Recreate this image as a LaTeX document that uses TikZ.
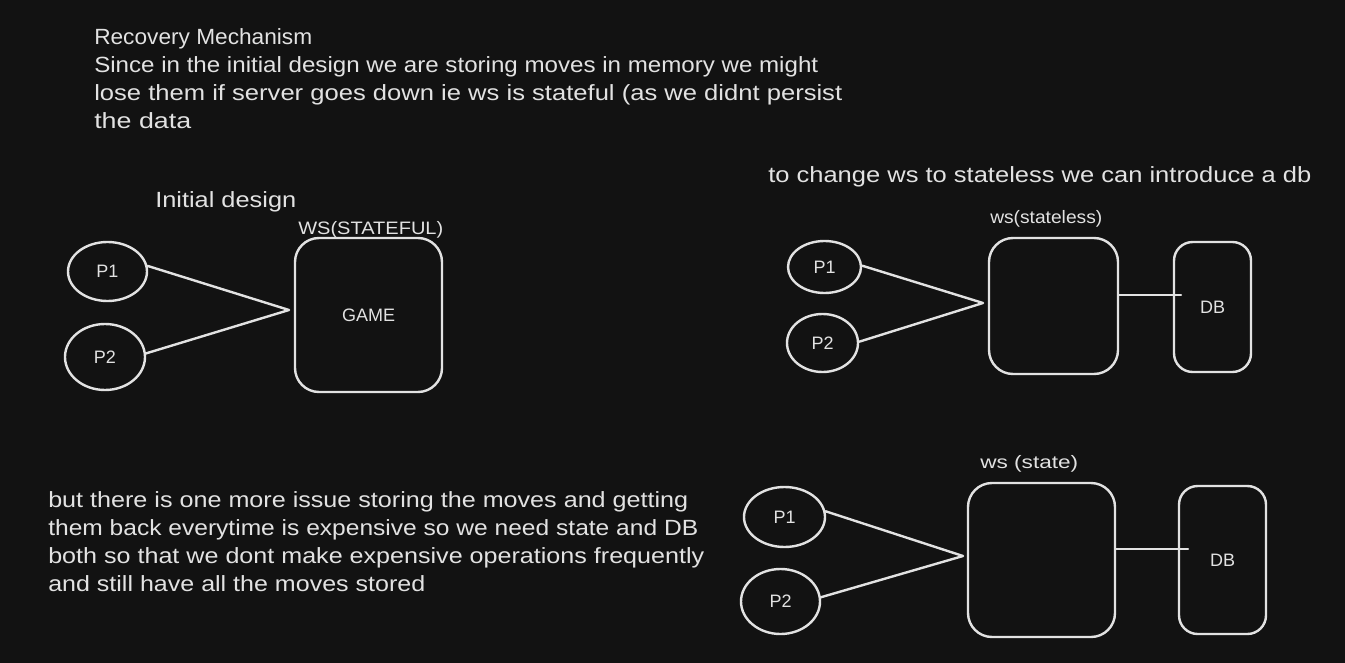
\documentclass[tikz,border=0pt]{standalone}
\usepackage{fontspec}
\setmainfont{Liberation Sans}
\usepackage{graphicx}
\usetikzlibrary{shapes.geometric}
\definecolor{bg}{HTML}{121212}
\definecolor{ink}{HTML}{E2E2E2}
\newcommand\fitw[2]{\sbox0{#2}\scalebox{\fpeval{(#1)/(\the\wd0)}}[1]{\usebox0}}
\newcommand\paralines[1]{\vtop{\baselineskip=21pt\lineskiplimit=-20pt #1}}
\begin{document}
\begin{tikzpicture}[x=0.75pt,y=-0.75pt,
  txt/.style={text=ink, inner sep=0pt, anchor=base west, font=\fontsize{16.5}{21}\selectfont},
  lbl/.style={text=ink, inner sep=0pt, anchor=base west, font=\fontsize{13.5}{16}\selectfont},
  player/.style={ellipse, draw=ink, line width=1.8pt, inner sep=0pt, text=ink, font=\fontsize{13.5}{16}\selectfont},
  server/.style={rectangle, draw=ink, line width=1.8pt, rounded corners=18pt, inner sep=0pt, text=ink, font=\fontsize{13.5}{16}\selectfont},
  dbbox/.style={server, rounded corners=14pt},
  link/.style={draw=ink, line width=1.8pt, line cap=round, line join=round}]
\fill[bg] (0,0) rectangle (1345,663);
\useasboundingbox (0,0) rectangle (1345,663);

% ---------- intro text ----------
\node[txt] (intro) at (94,45) {\paralines{%
  \hbox{\fitw{163.5pt}{Recovery Mechanism}}%
  \hbox{\fitw{543pt}{Since in the initial design we are storing moves in memory we might}}%
  \hbox{\fitw{561pt}{lose them if server goes down ie ws is stateful (as we didnt persist}}%
  \hbox{\fitw{72.75pt}{the data}}}};

% ---------- initial design ----------
\node[txt] (t1) at (155,207) {\fitw{105.75pt}{Initial design}};
\node[lbl] (wsl1) at (298,234) {\fitw{108.75pt}{WS(STATEFUL)}};
\node[player, minimum width=59.25pt, minimum height=44.25pt] (a1) at (107.5,271.5) {P1};
\node[player, minimum width=60pt, minimum height=49.5pt] (a2) at (105,357) {P2};
\node[server, minimum width=110.25pt, minimum height=115.5pt] (game) at (368.5,315) {GAME};
\coordinate (ax) at (289,310);
\draw[link] (a1.8) -- (ax) -- (a2.5);

% ---------- stateless ----------
\node[txt] (t2) at (768,182) {\fitw{407.25pt}{to change ws to stateless we can introduce a db}};
\node[lbl] (wsl2) at (990,223) {\fitw{84pt}{ws(stateless)}};
\node[player, minimum width=54.75pt, minimum height=39pt] (b1) at (824.5,267) {P1};
\node[player, minimum width=53.25pt, minimum height=43.5pt] (b2) at (822.5,343) {P2};
\node[server, minimum width=96.75pt, minimum height=102pt] (ws2) at (1053.5,306) {};
\node[dbbox, minimum width=57.75pt, minimum height=97.5pt] (db2) at (1212.5,307) {DB};
\coordinate (bx) at (983,303);
\coordinate (bdb) at (1181,295);
\draw[link] (b1.2) -- (bx) -- (b2.2);
\draw[link] (ws2.east |- bdb) -- (bdb);

% ---------- state + db ----------
\node[lbl] (wsl3) at (980,468) {\fitw{73.5pt}{ws (state)}};
\node[player, minimum width=60.75pt, minimum height=45pt] (c1) at (784.5,517) {P1};
\node[player, minimum width=59.25pt, minimum height=48.75pt] (c2) at (780.5,601.5) {P2};
\node[server, minimum width=110.25pt, minimum height=115.5pt] (ws3) at (1041.5,560) {};
\node[dbbox, minimum width=65.25pt, minimum height=111pt] (db3) at (1222.5,560) {DB};
\coordinate (cx) at (963,556);
\coordinate (cdb) at (1188,549);
\draw[link] (c1.8) -- (cx) -- (c2.6);
\draw[link] (ws3.east |- cdb) -- (cdb);

% ---------- bottom text ----------
\node[txt] (outro) at (48,507) {\paralines{%
  \hbox{\fitw{480pt}{but there is one more issue storing the moves and getting}}%
  \hbox{\fitw{487.5pt}{them back everytime is expensive so we need state and DB}}%
  \hbox{\fitw{492pt}{both so that we dont make expensive operations frequently}}%
  \hbox{\fitw{282.75pt}{and still have all the moves stored}}}};
\end{tikzpicture}
\end{document}
